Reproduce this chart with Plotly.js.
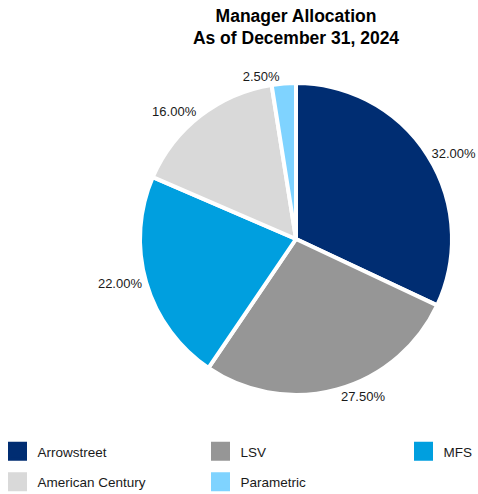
<!DOCTYPE html>
<html>
<head>
<meta charset="utf-8">
<script src="https://cdn.plot.ly/plotly-3.0.1.min.js"></script>
<style>html,body{margin:0;padding:0;background:#fff;}#chart{width:478px;height:494px;}</style>
</head>
<body>
<div id="chart"></div>
<script>
// Data
const managers = ["Arrowstreet", "LSV", "MFS", "American Century", "Parametric"];
const allocation = [32.00, 27.50, 22.00, 16.00, 2.50];
const colors = ["#002D72", "#969696", "#009FDF", "#D9D9D9", "#7FD3FF"];
// legend column assignment (which legend each manager appears in)
const legendColumn = ["legend", "legend2", "legend3", "legend", "legend2"];

const FONT = "'Liberation Sans', Arial, sans-serif";

const pie = {
  type: "pie",
  labels: managers,
  values: allocation,
  sort: false,
  direction: "clockwise",
  rotation: 0,
  marker: {colors: colors, line: {color: "#ffffff", width: 4}},
  textposition: "outside",
  texttemplate: "%{value:.2f}%",
  textfont: {family: FONT, size: 13, color: "#1a1a1a"},
  hoverinfo: "none",
  showlegend: false
};

// legend entries built from the same arrays
const legendTraces = managers.map((m, i) => ({
  type: "scatter",
  mode: "markers",
  x: [null], y: [null],
  name: m,
  legend: legendColumn[i],
  legendgroup: m,
  marker: {symbol: "square", size: 16, color: colors[i], line: {color: colors[i], width: 3}},
  hoverinfo: "none",
  showlegend: true
}));

const W = 478, H = 494;
const ML = 140, MR = 26;
const PW = W - ML - MR;
function legendAt(xpx, ypx) {
  return {
    orientation: "v",
    xref: "paper", yref: "container",
    x: (xpx - ML) / PW, y: 1 - ypx / H,
    xanchor: "left", yanchor: "top",
    font: {family: FONT, size: 13.5, color: "#1a1a1a"},
    bgcolor: "rgba(0,0,0,0)",
    borderwidth: 0,
    tracegroupgap: 10,
    itemclick: false, itemdoubleclick: false
  };
}

const layout = {
  width: W, height: H,
  margin: {l: ML, r: MR, t: 83, b: 99, autoexpand: false},
  paper_bgcolor: "#ffffff",
  plot_bgcolor: "#ffffff",
  title: {
    text: "<b>Manager Allocation<br>As of December 31, 2024</b>",
    font: {family: FONT, size: 17.5, color: "#000000"},
    x: 0.5, xref: "paper", xanchor: "center",
    y: 0.956, yref: "container", yanchor: "top",
    pad: {t: 0, b: 0}
  },
  xaxis: {visible: false},
  yaxis: {visible: false},
  legend: legendAt(-2.5, 436),
  legend2: legendAt(200.5, 436),
  legend3: legendAt(403.5, 436),
  hovermode: false
};

Plotly.newPlot("chart", [pie].concat(legendTraces), layout, {displayModeBar: false, staticPlot: true});
</script>
</body>
</html>
